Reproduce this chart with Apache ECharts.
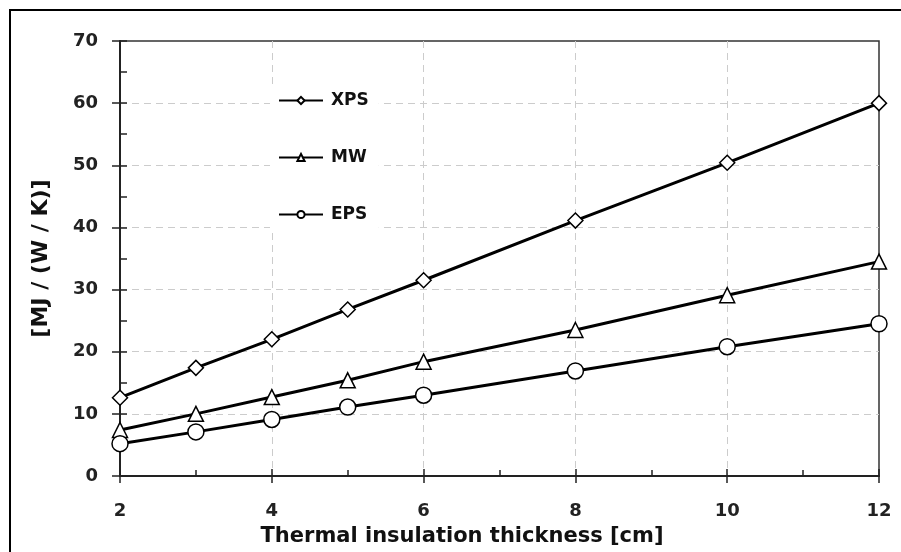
<!DOCTYPE html>
<html>
<head>
<meta charset="utf-8">
<script src="https://cdn.jsdelivr.net/npm/echarts@6/dist/echarts.min.js"></script>
<style>
  html, body { margin: 0; padding: 0; background: #fff; }
  #chart { width: 901px; height: 552px; }
</style>
</head>
<body>
<div id="chart"></div>
<script>
// thickness [cm]
const thickness = [2, 3, 4, 5, 6, 8, 10, 12];
const xps = [12.6, 17.4, 22.0, 26.8, 31.5, 41.1, 50.4, 60.0];
const mw = [7.4, 10.0, 12.7, 15.4, 18.4, 23.5, 29.1, 34.5];
const eps = [5.2, 7.1, 9.1, 11.1, 13.0, 16.9, 20.8, 24.5];

const FONT = '"DejaVu Sans"';
const pairs = (ys) => thickness.map((x, i) => [x, ys[i]]);

const chart = echarts.init(document.getElementById('chart'));

const lineSeries = (name, data, symbol, size) => ({
  name,
  type: 'line',
  xAxisIndex: 0,
  yAxisIndex: 0,
  data: pairs(data),
  symbol,
  symbolSize: size,
  showAllSymbol: true,
  lineStyle: { color: '#000', width: 3 },
  itemStyle: { color: '#fff', borderColor: '#000', borderWidth: 1.5 },
  emphasis: { disabled: true },
  z: 5,
});

const baseX = {
  type: 'value', min: 2, max: 12, interval: 2, position: 'bottom',
};
const baseY = {
  type: 'value', min: 0, max: 70, interval: 10, position: 'left',
};
const gridLine = {
  show: true, showMinLine: false, showMaxLine: false,
  lineStyle: { color: '#cccccc', type: [7, 5], width: 1 },
};

chart.setOption({
  animation: false,
  grid: {
    left: 120, right: 22, top: 41, bottom: 76,
    show: true, borderColor: '#333', borderWidth: 1.5, backgroundColor: 'transparent',
  },
  legend: {
    orient: 'vertical',
    left: 270, top: 84,
    padding: [8, 10, 8, 8],
    backgroundColor: '#fff',
    itemWidth: 44, itemHeight: 9,
    itemGap: 40,
    textStyle: { fontFamily: FONT, fontWeight: 'bold', fontSize: 17, color: '#111', padding: [0, 0, 0, 3] },
    data: ['XPS', 'MW', 'EPS'],
  },
  xAxis: [
    Object.assign({}, baseX, {
      axisLine: { show: true, lineStyle: { color: '#222', width: 2 } },
      axisTick: { show: true, inside: false, length: 7, lineStyle: { color: '#222', width: 1.5 } },
      axisLabel: { margin: 26, fontFamily: FONT, fontWeight: 'bold', fontSize: 18, color: '#222' },
      splitLine: gridLine,
    }),
    Object.assign({}, baseX, {
      axisLine: { show: false },
      axisTick: { show: true, inside: true, length: 7, lineStyle: { color: '#222', width: 1.5 } },
      minorTick: { show: true, splitNumber: 2, length: 6, lineStyle: { color: '#222', width: 1.5 } },
      axisLabel: { show: false },
      splitLine: { show: false },
    }),
  ],
  yAxis: [
    Object.assign({}, baseY, {
      axisLine: { show: true, lineStyle: { color: '#222', width: 2 } },
      axisTick: { show: true, inside: false, length: 8, lineStyle: { color: '#222', width: 1.5 } },
      axisLabel: { margin: 22, fontFamily: FONT, fontWeight: 'bold', fontSize: 18, color: '#222' },
      splitLine: gridLine,
      name: '[MJ / (W / K)]',
      nameLocation: 'middle',
      nameGap: 68,
      nameTextStyle: { fontFamily: FONT, fontWeight: 'bold', fontSize: 22, color: '#111' },
    }),
    Object.assign({}, baseY, {
      axisLine: { show: false },
      axisTick: { show: true, inside: true, length: 7, lineStyle: { color: '#222', width: 1.5 } },
      minorTick: { show: true, splitNumber: 2, length: 7, lineStyle: { color: '#222', width: 1.5 } },
      axisLabel: { show: false },
      splitLine: { show: false },
    }),
  ],
  graphic: [
    {
      type: 'rect', silent: true, z: 100,
      shape: { x: 10, y: 10, width: 900, height: 560 },
      style: { fill: 'none', stroke: '#000', lineWidth: 2 },
    },
    {
      type: 'text', silent: true, x: 462, y: 537,
      style: {
        text: 'Thermal insulation thickness [cm]',
        font: 'bold 21px ' + FONT, fill: '#111',
        align: 'center', verticalAlign: 'middle',
      },
    },
  ],
  series: [
    lineSeries('XPS', xps, 'diamond', 15),
    lineSeries('MW', mw, 'triangle', 15),
    lineSeries('EPS', eps, 'circle', 16),
  ],
});
</script>
</body>
</html>
